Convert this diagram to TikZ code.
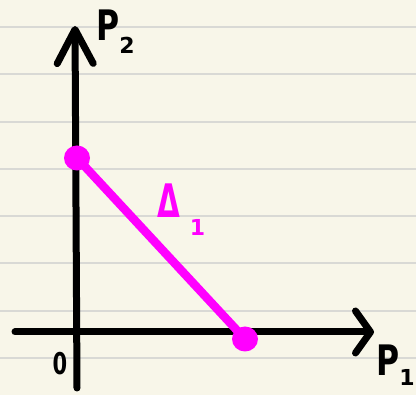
\documentclass[tikz,border=0pt]{standalone}
\usepackage{fontspec}
\setmainfont{DejaVu Sans}
\usepackage{xcolor}
\definecolor{paper}{HTML}{F8F6E9}
\definecolor{rule}{HTML}{D9D9D5}
\definecolor{pen}{HTML}{FF00FF}
\usetikzlibrary{arrows.meta, positioning, shapes.geometric}

\newcommand{\subsc}[2][-10pt]{\raisebox{#1}{\fontsize{22}{22}\selectfont #2}}

\begin{document}
\begin{tikzpicture}[
        x=1pt, y=-1pt,
        axis/.style={
            line width=7pt,
            line cap=round,
            draw=black
        },
        budget/.style={
            line width=8.5pt,
            draw=pen
        },
        dot_node/.style={
            ellipse, 
            fill=pen, 
            inner sep=0pt,
            minimum width=26pt,
            minimum height=25pt
        },
        label_node/.style={
            font=\bfseries\fontsize{42}{42}\selectfont,
            inner sep=0pt
        }
    ]

    % Paper
    \fill[paper] (0,0) rectangle (416,395);
    \useasboundingbox (0,0) rectangle (416,395);
    \foreach \y in {27,74,122,169,216,263,311,358}
        \draw[rule, line width=1.6pt] (0,\y) -- (416,\y);

    % Axes
    \coordinate (origin) at (76,332);
    \coordinate (xend) at (374,332);
    \coordinate (yend) at (75,26);
    \coordinate (xstart) at (15,332);
    \coordinate (ystart) at (77,388);
    \draw[axis, -{Straight Barb[length=15pt, width=42pt, line cap=round, line join=round]}] (xstart) -- (xend);
    \draw[axis, -{Straight Barb[length=34pt, width=36pt, line cap=round, line join=round]}] (ystart) -- (yend);

    % Axis labels
    \node[label_node, anchor=north west] (ptwo) at (96,10) {\scalebox{0.75}[1]{P}\subsc[-13pt]{2}};
    \node[label_node, anchor=north east] (pone) at (415,345) {\scalebox{0.75}[1]{P}\subsc{1}};
    \node[label_node, font=\bfseries\fontsize{30}{30}\selectfont] (zero) at (60,364) {\scalebox{0.7}[1]{0}};

    % Budget line
    \node[dot_node] (top) at (77,158) {};
    \node[dot_node] (bottom) at (245,339) {};
    \draw[budget] (top.center) -- (bottom.center);
    \node[label_node, text=pen, anchor=north west] (delta) at (157,184) {\scalebox{0.7}[1.1]{Δ}\hspace{10pt}\subsc[-18pt]{1}};

\end{tikzpicture}
\end{document}
